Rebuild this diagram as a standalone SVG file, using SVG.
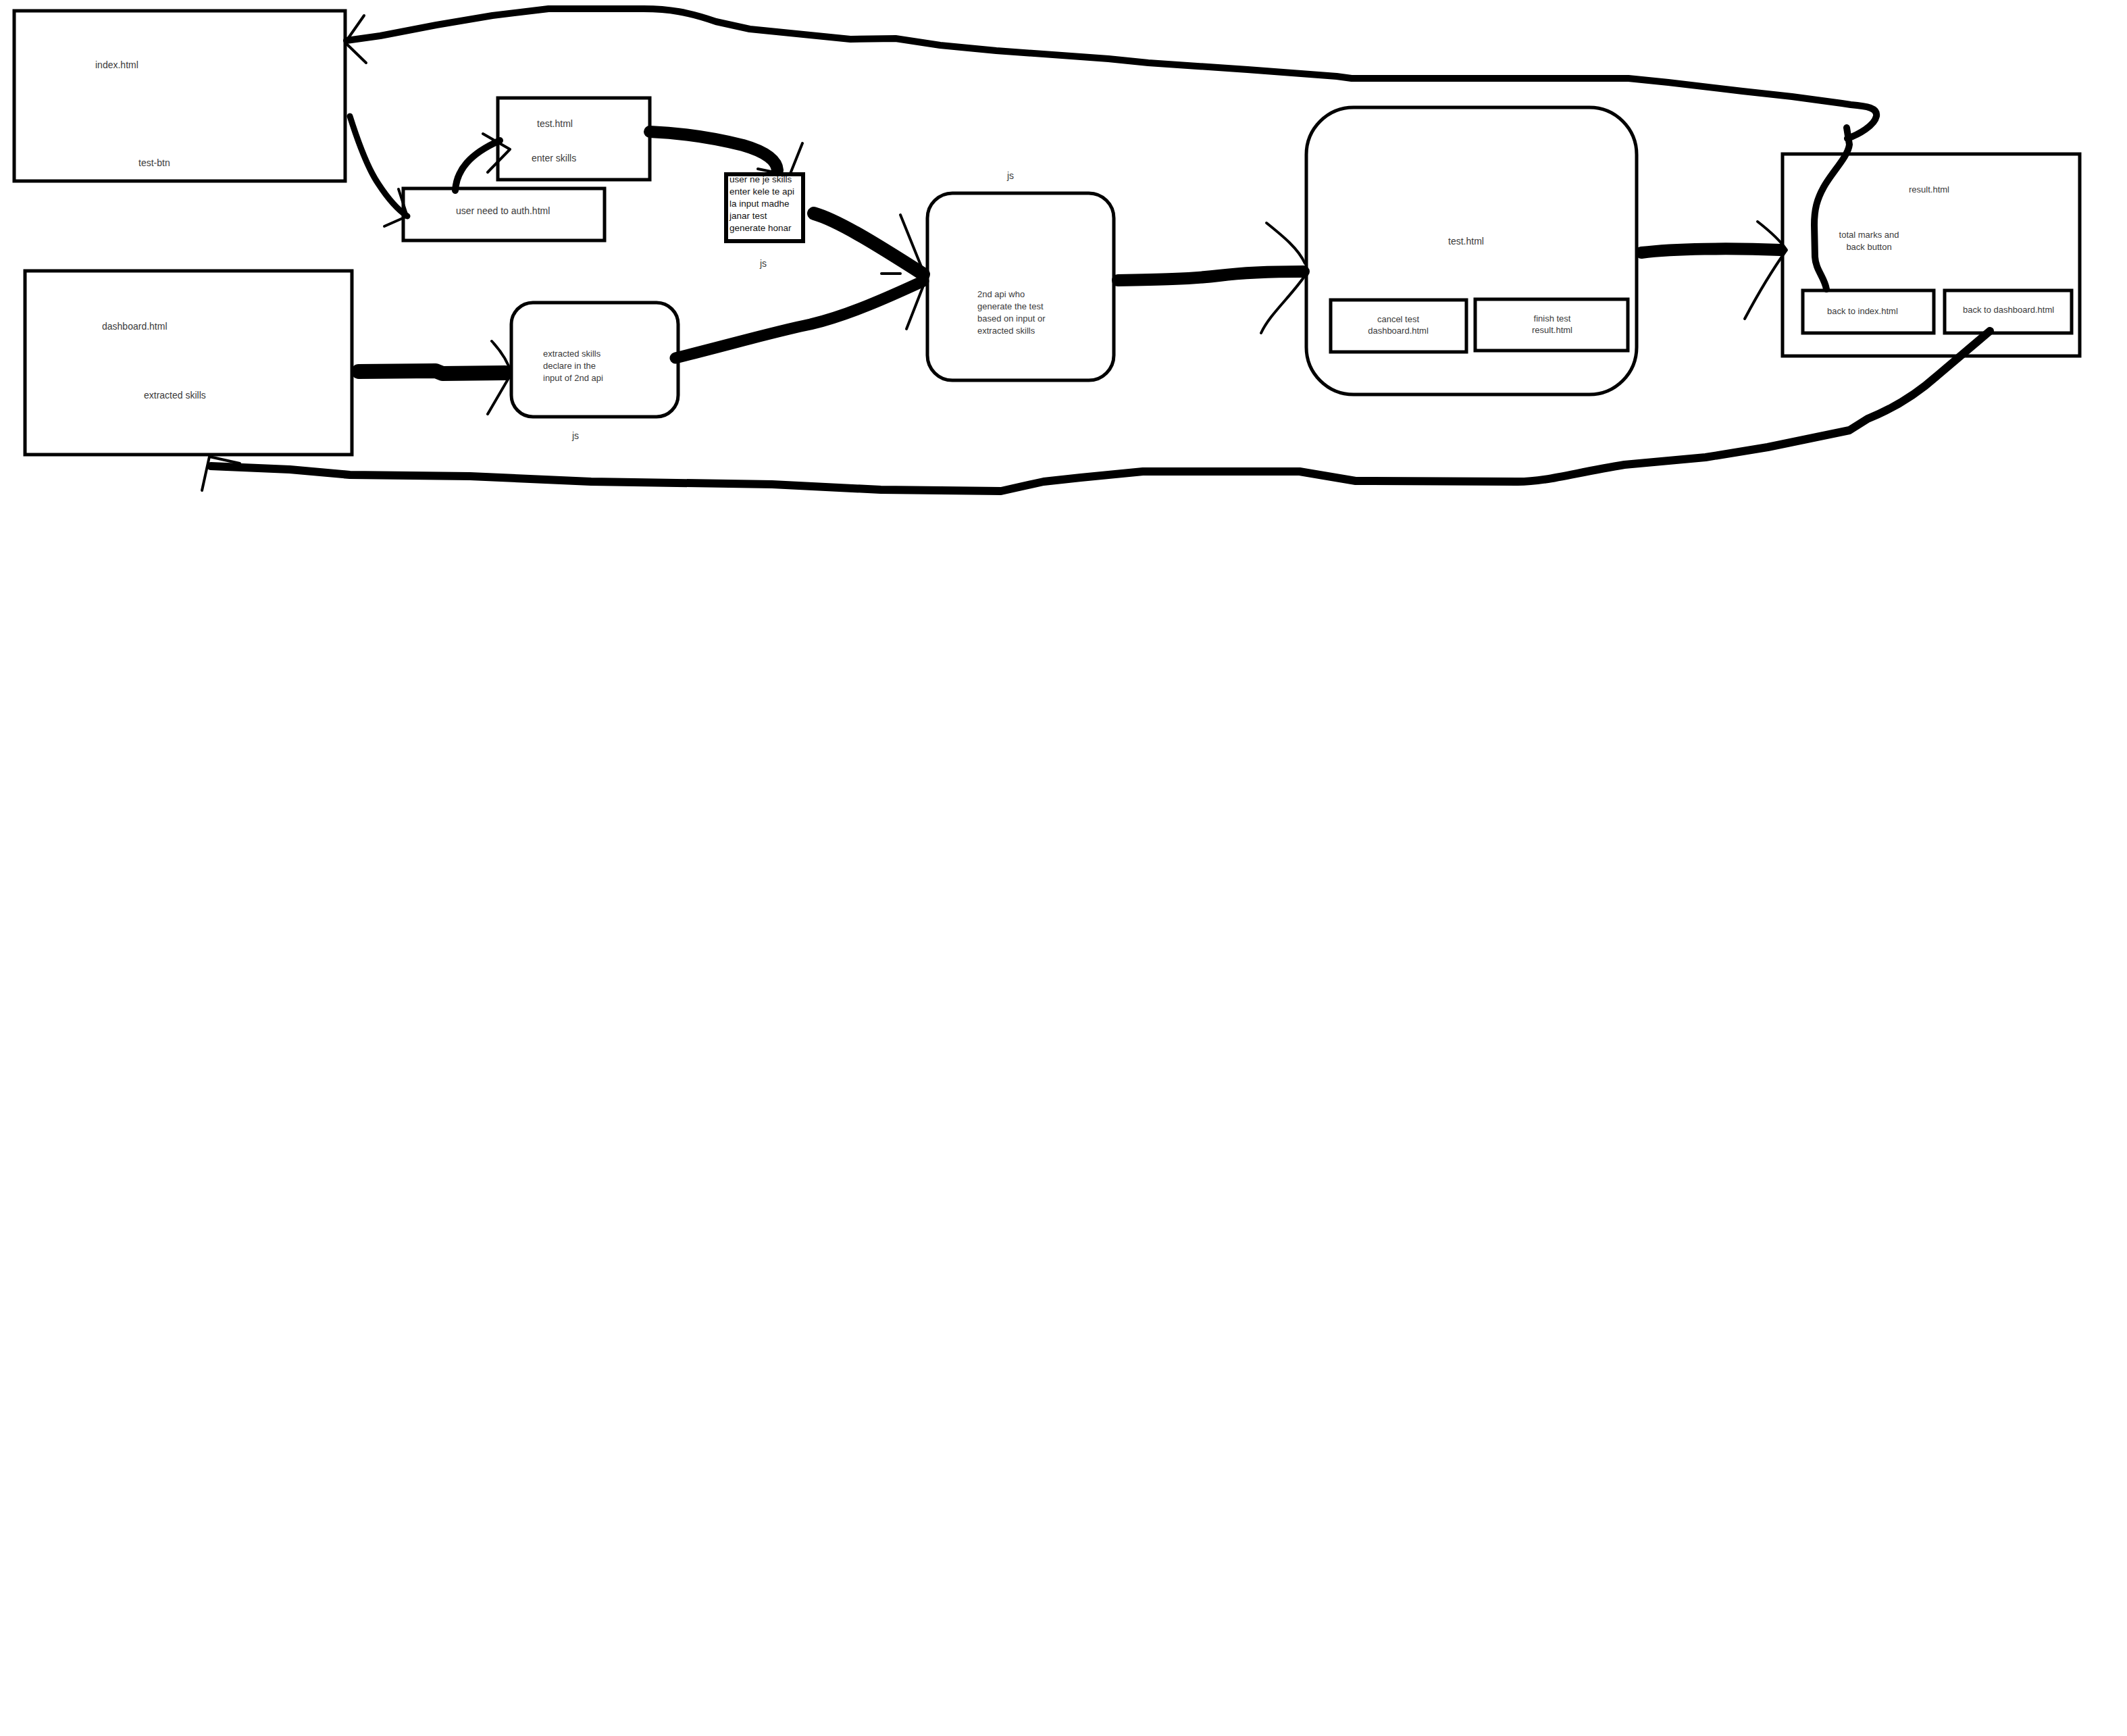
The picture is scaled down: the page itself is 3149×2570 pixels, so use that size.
<svg xmlns="http://www.w3.org/2000/svg" width="3149" height="2570" viewBox="0 0 3149 2570">
<style>
  .box{fill:#fff;stroke:#000;stroke-width:5}
  .lbl{font-family:"Liberation Sans",Arial,sans-serif;font-size:14px;fill:#3a3a3a}
  .sm{font-size:13px}
  .blk{fill:#111;font-size:13.5px}
  .mid{text-anchor:middle}
  .wire{fill:none;stroke:#000;stroke-linecap:round;stroke-linejoin:round}
  .head{fill:none;stroke:#000;stroke-width:4;stroke-linecap:round;stroke-linejoin:round}
</style>
<rect width="3149" height="2570" fill="#fff"/>

<g id="node-index">
  <rect class="box" x="21" y="16" width="490" height="252"/>
  <text class="lbl" x="141" y="101">index.html</text>
  <text class="lbl" x="205" y="246">test-btn</text>
</g>
<g id="node-test-enter">
  <rect class="box" x="737" y="145" width="225" height="121"/>
  <text class="lbl" x="795" y="188">test.html</text>
  <text class="lbl" x="787" y="239">enter skills</text>
</g>
<g id="node-auth">
  <rect class="box" x="597" y="279" width="298" height="77"/>
  <text class="lbl" x="675" y="317">user need to auth.html</text>
</g>
<g id="node-input">
  <rect class="box" x="1075" y="258" width="114" height="99" style="stroke-width:6"/>
  <text class="lbl blk" x="1080" y="270">user ne je skills</text>
  <text class="lbl blk" x="1080" y="288">enter kele te api</text>
  <text class="lbl blk" x="1080" y="306">la input madhe</text>
  <text class="lbl blk" x="1080" y="324">janar test</text>
  <text class="lbl blk" x="1080" y="342">generate honar</text>
  <text class="lbl" x="1125" y="395">js</text>
</g>
<g id="node-dashboard">
  <rect class="box" x="37" y="401" width="484" height="272"/>
  <text class="lbl" x="151" y="488">dashboard.html</text>
  <text class="lbl" x="213" y="590">extracted skills</text>
</g>
<g id="node-extracted">
  <rect class="box" x="757" y="448" width="247" height="169" rx="32"/>
  <text class="lbl sm" x="804" y="528">extracted skills</text>
  <text class="lbl sm" x="804" y="546">declare in the</text>
  <text class="lbl sm" x="804" y="564">input of 2nd api</text>
  <text class="lbl" x="847" y="650">js</text>
</g>
<g id="node-api">
  <text class="lbl" x="1491" y="265">js</text>
  <rect class="box" x="1373" y="286" width="276" height="277" rx="37"/>
  <text class="lbl sm" x="1447" y="440">2nd api who</text>
  <text class="lbl sm" x="1447" y="458">generate the test</text>
  <text class="lbl sm" x="1447" y="476">based on input or</text>
  <text class="lbl sm" x="1447" y="494">extracted skills</text>
</g>
<g id="node-test">
  <rect class="box" x="1934" y="159" width="489" height="425" rx="70"/>
  <text class="lbl" x="2144" y="362">test.html</text>
  <rect class="box" x="1970" y="444" width="201" height="77"/>
  <text class="lbl sm mid" x="2070" y="477">cancel test</text>
  <text class="lbl sm mid" x="2070" y="494">dashboard.html</text>
  <rect class="box" x="2184" y="443" width="226" height="76"/>
  <text class="lbl sm mid" x="2298" y="476">finish test</text>
  <text class="lbl sm mid" x="2298" y="493">result.html</text>
</g>
<g id="node-result">
  <rect class="box" x="2639" y="228" width="440" height="299"/>
  <text class="lbl sm" x="2826" y="285">result.html</text>
  <text class="lbl sm mid" x="2767" y="352">total marks and</text>
  <text class="lbl sm mid" x="2767" y="370">back button</text>
  <rect class="box" x="2669" y="430" width="194" height="63"/>
  <text class="lbl sm" x="2705" y="465">back to index.html</text>
  <rect class="box" x="2879" y="430" width="188" height="63"/>
  <text class="lbl sm" x="2906" y="463">back to dashboard.html</text>
</g>

<g id="connectors">
  <!-- index -> auth -->
  <path class="wire" style="stroke-width:9" d="M518,172 C530,210 545,250 560,272 C575,295 588,310 603,320"/>
  <path class="head" d="M569,335 L603,320 L590,280"/>
  <!-- auth -> test.html (enter skills) -->
  <path class="wire" style="stroke-width:10" d="M674,282 C676,252 695,228 740,208"/>
  <path class="head" d="M715,198 L755,221 L722,255"/>
  <!-- test.html -> input box -->
  <path class="wire" style="stroke-width:18" d="M962,195 C1010,197 1060,205 1100,215 C1135,225 1150,238 1151,252"/>
  <path class="head" d="M1122,250 L1151,256 M1188,212 L1170,257"/>
  <!-- input box -> 2nd api -->
  <path class="wire" style="stroke-width:20" d="M1205,316 C1240,326 1295,360 1367,406"/>
  <!-- dashboard -> extracted -->
  <path class="wire" style="stroke-width:22" d="M531,550 L645,549 L655,553 L748,552"/>
  <path class="head" d="M728,505 C742,520 752,535 757,553 L722,613"/>
  <!-- extracted -> 2nd api -->
  <path class="wire" style="stroke-width:17" d="M1000,530 C1080,510 1150,490 1200,480 C1255,467 1315,440 1367,416"/>
  <path class="head" d="M1333,318 L1373,417 M1342,487 L1367,423 M1305,405 L1333,405"/>
  <!-- 2nd api -> test.html -->
  <path class="wire" style="stroke-width:18" d="M1655,415 C1710,414 1765,413 1805,408 C1845,403 1885,402 1930,402"/>
  <path class="head" d="M1875,330 C1900,350 1922,368 1932,390 M1932,408 C1910,440 1880,465 1867,493"/>
  <!-- test.html -> result -->
  <path class="wire" style="stroke-width:18" d="M2430,374 C2480,368 2560,367 2636,370"/>
  <path class="head" d="M2602,328 C2620,342 2635,355 2645,370 C2620,405 2600,440 2583,472"/>
  <!-- back to index -> index -->
  <path class="wire" style="stroke-width:10" d="M2704,428 C2701,410 2688,400 2687,380 L2686,333 C2686,310 2690,295 2700,277 C2712,255 2736,232 2738,214 L2734,189 M2735,205 C2752,199 2775,186 2778,172 C2780,160 2765,157 2740,155 L2727,153 L2653,143 L2580,135 L2470,122 L2411,116 L2001,116 L1979,113 L1847,103 L1700,93 L1641,87 L1475,75 L1392,67 L1326,57 L1259,58 L1110,43 L1060,32 C1020,18 990,13 953,13 L812,13 L729,23 L646,37 L563,53 L513,60"/>
  <path class="head" d="M539,23 L511,63 L542,93"/>
  <!-- back to dashboard -> dashboard -->
  <path class="wire" style="stroke-width:12" d="M2946,490 L2867,557 C2830,590 2790,610 2765,620 L2738,637 L2617,662 L2525,677 L2405,688 C2330,700 2290,713 2247,713 L2007,712 L1924,698 L1692,698 L1600,707 L1545,713 L1482,727 L1304,725 L1143,717 L875,713 L696,705 L518,703 L429,695 L312,690"/>
  <path class="head" d="M299,726 L310,676 L355,686"/>
</g>
</svg>
